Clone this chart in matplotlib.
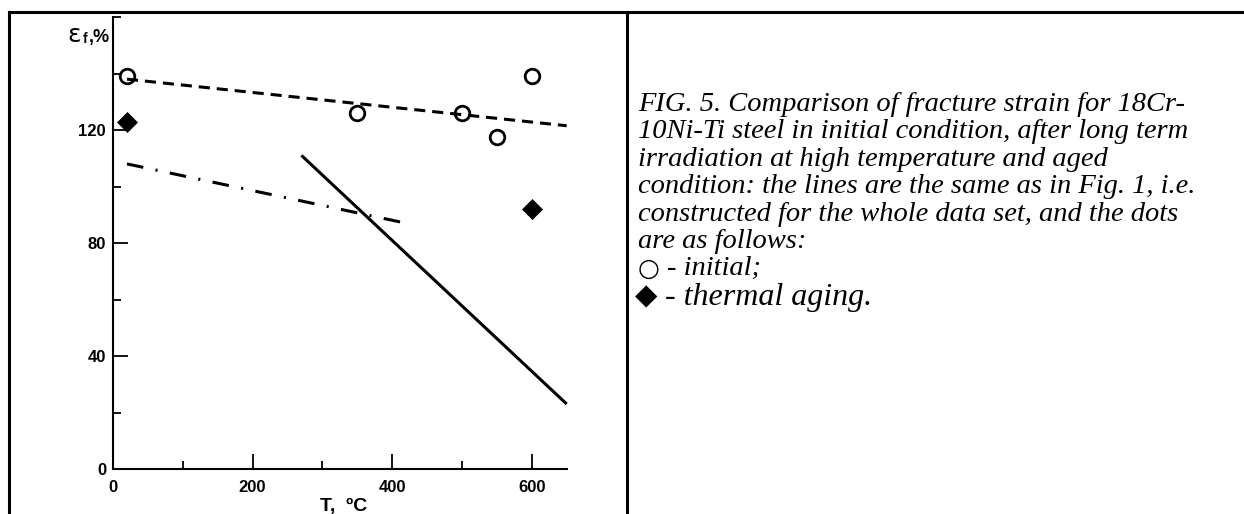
import matplotlib
matplotlib.use("Agg")
import matplotlib.pyplot as plt
from matplotlib.lines import Line2D
from matplotlib.ticker import MultipleLocator

plt.rcParams['lines.scale_dashes'] = False

# ---- data ----
initial_T = [20, 350, 500, 550, 600]
initial_eps = [139, 126, 126, 117.5, 139]
aging_T = [20, 600]
aging_eps = [123, 92]
dashed_T = [20, 650]
dashed_eps = [138, 121.5]
dashdot_T = [20, 420]
dashdot_eps = [108, 87]
solid_T = [270, 650]
solid_eps = [111, 23]
x_ticks = [0, 200, 400, 600]
y_ticks = [0, 40, 80, 120]
caption_lines = [
    "FIG. 5. Comparison of fracture strain for 18Cr-",
    "10Ni-Ti steel in initial condition, after long term",
    "irradiation at high temperature and aged",
    "condition: the lines are the same as in Fig. 1, i.e.",
    "constructed for the whole data set, and the dots",
    "are as follows:",
]
legend_labels = ["- initial;", "- thermal aging."]

W, H = 1244, 514
fig = plt.figure(figsize=(W / 100, H / 100), dpi=100)

def fx(px):
    return px / W

def fy(py):
    return 1 - py / H

# axes: left 113, right 566.7, bottom 469, top 17
ax = fig.add_axes([fx(113), fy(469), fx(566.7) - fx(113), (469 - 17) / H])
ax.set_xlim(0, 650)
ax.set_ylim(0, 160)
for s in ['top', 'right']:
    ax.spines[s].set_visible(False)
for s in ['left', 'bottom']:
    ax.spines[s].set_linewidth(1.5)
    ax.spines[s].set_color('black')

ax.set_xticks(x_ticks)
ax.set_yticks(y_ticks)
ax.xaxis.set_minor_locator(MultipleLocator(100))
ax.yaxis.set_minor_locator(MultipleLocator(20))
ax.tick_params(which='major', direction='in', length=11, width=1.3, colors='black')
ax.tick_params(which='minor', direction='in', length=6, width=1.3, colors='black')
ax.tick_params(axis='x', which='major', pad=8)
ax.tick_params(axis='y', which='major', pad=5)
for lab in ax.get_xticklabels() + ax.get_yticklabels():
    lab.set_fontfamily('Liberation Sans')
    lab.set_fontweight('bold')
    lab.set_fontsize(12)

ax.plot(dashed_T, dashed_eps, color='black', lw=2.2, linestyle=(0, (8, 5)), clip_on=False)
ax.plot(dashdot_T, dashdot_eps, color='black', lw=2.2, linestyle=(0, (12, 9, 1.5, 9)), clip_on=False)
ax.plot(solid_T, solid_eps, color='black', lw=2.2, solid_capstyle='butt', clip_on=False)
ax.plot(initial_T, initial_eps, linestyle='none', marker='o', markersize=10.5,
        markerfacecolor='none', markeredgecolor='black', markeredgewidth=2.0, clip_on=False, zorder=5)
ax.plot(aging_T, aging_eps, linestyle='none', marker='D', markersize=10,
        markerfacecolor='black', markeredgecolor='black', markeredgewidth=0.5, clip_on=False, zorder=5)

# axis labels
fig.text(fx(67), fy(42), "ε", fontsize=18, family='DejaVu Sans', va='baseline', ha='left')
fig.text(fx(83), fy(43), "f", fontsize=10, family='Liberation Sans', weight='bold', va='baseline', ha='left')
fig.text(fx(89), fy(42), ",%", fontsize=13, family='Liberation Sans', weight='bold', va='baseline', ha='left')
fig.text(fx(344), fy(511), "T,  ºC", fontsize=14, family='Liberation Sans', weight='bold', va='baseline', ha='center')

# frame
lw_frame = 2.2
fig.add_artist(Line2D([fx(9), 1], [fy(12), fy(12)], color='black', lw=lw_frame))
fig.add_artist(Line2D([fx(9), fx(9)], [fy(12), 0], color='black', lw=lw_frame))
fig.add_artist(Line2D([fx(627), fx(627)], [fy(12), 0], color='black', lw=lw_frame))

# caption
x0 = 638
base0 = 111
step = 27.4
for i, line in enumerate(caption_lines):
    fig.text(fx(x0), fy(base0 + i * step), line, fontsize=20.5, family='Liberation Serif',
             style='italic', va='baseline', ha='left')
fig.text(fx(x0), fy(base0 + 6 * step), "○", fontsize=18, family='DejaVu Sans', va='baseline', ha='left')
fig.text(fx(667), fy(base0 + 6 * step), legend_labels[0], fontsize=20.5, family='Liberation Serif',
         style='italic', va='baseline', ha='left')
fig.text(fx(635), fy(base0 + 7 * step + 2), "◆", fontsize=21, family='DejaVu Sans', va='baseline', ha='left')
fig.text(fx(665), fy(base0 + 7 * step + 2), legend_labels[1], fontsize=23, family='Liberation Serif',
         style='italic', va='baseline', ha='left')

fig.savefig("out.png", dpi=100)
